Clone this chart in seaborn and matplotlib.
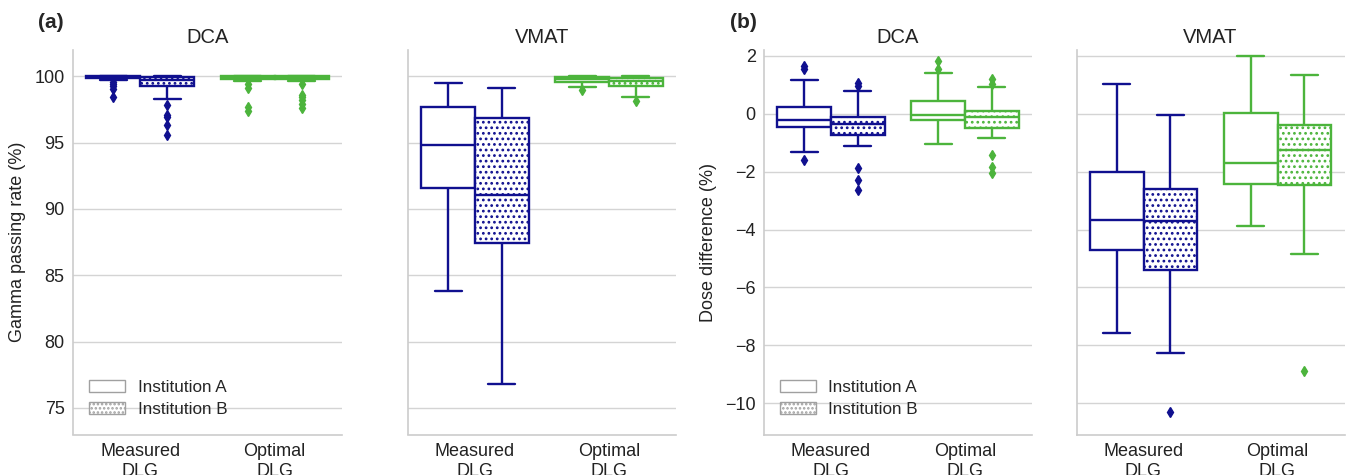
import numpy as np
import pandas as pd
import matplotlib
matplotlib.use("Agg")
import matplotlib.pyplot as plt
from matplotlib.patches import Patch
import seaborn as sns

sns.set_theme(style="whitegrid")
plt.rcParams['font.family'] = ['Liberation Sans', 'DejaVu Sans']
plt.rcParams['axes.edgecolor'] = '#cccccc'
plt.rcParams['grid.color'] = '#d4d4d4'
plt.rcParams['hatch.linewidth'] = 1.2

# ---------------- data ----------------
DLG_LABELS = ["Measured\nDLG", "Optimal\nDLG"]
INSTITUTIONS = ["Institution A", "Institution B"]
TECHNIQUES = ["DCA", "VMAT"]
# group order: Measured/A, Measured/B, Optimal/A, Optimal/B
# five-number summary: [lower whisker, Q1, median, Q3, upper whisker]
gpr_dca_box = [[99.72, 99.85, 99.95, 100.0, 100.0],
               [98.32, 99.30, 99.70, 99.97, 100.0],
               [99.65, 99.77, 99.92, 100.0, 100.0],
               [99.65, 99.77, 99.90, 100.0, 100.0]]
gpr_dca_fliers = [[99.55, 99.4, 99.25, 99.05, 98.4],
                  [97.85, 97.1, 96.9, 96.35, 95.55],
                  [99.38, 99.15, 97.7, 97.35],
                  [99.38, 98.6, 98.4, 98.2, 97.9, 97.6]]
gpr_vmat_box = [[83.8, 91.6, 94.85, 97.7, 99.5],
                [76.8, 87.45, 91.08, 96.84, 99.1],
                [99.17, 99.6, 99.77, 99.97, 100.0],
                [98.47, 99.3, 99.67, 99.9, 100.0]]
gpr_vmat_fliers = [[], [], [98.95], [98.1]]
dose_dca_box = [[-1.33, -0.46, -0.21, 0.23, 1.16],
                [-1.13, -0.74, -0.35, -0.12, 0.78],
                [-1.06, -0.23, -0.06, 0.45, 1.41],
                [-0.83, -0.48, -0.12, 0.08, 0.91]]
dose_dca_fliers = [[1.55, 1.65, -1.61],
                   [0.95, 1.07, -1.86, -2.30, -2.62],
                   [1.55, 1.83],
                   [1.04, 1.21, -1.44, -1.84, -2.05]]
dose_vmat_box = [[-7.56, -4.72, -3.66, -2.00, 1.04],
                 [-8.28, -5.41, -3.72, -2.61, -0.06],
                 [-3.89, -2.42, -1.69, 0.01, 1.99],
                 [-4.86, -2.46, -1.26, -0.39, 1.33]]
dose_vmat_fliers = [[], [-10.32], [], [-8.87]]

NAVY = "#10108f"
GREEN = "#4cb43c"
LINE_COLORS = [NAVY, GREEN]


def sample(stats, fliers):
    lo, q1, med, q3, hi = stats
    return list(fliers) + [lo] + [q1] * 20 + [med] * 21 + [q3] * 20 + [hi]


def frame(box, fliers):
    rows = []
    for i, (st, fl) in enumerate(zip(box, fliers)):
        dlg = DLG_LABELS[i // 2]
        inst = INSTITUTIONS[i % 2]
        for v in sample(st, fl):
            rows.append((dlg, inst, v))
    return pd.DataFrame(rows, columns=["DLG", "Institution", "value"])


W, H = 1349, 475
fig = plt.figure(figsize=(W / 100, H / 100), dpi=100)


def add_ax(left, width, top=50, bottom=434.5, sharey=None):
    return fig.add_axes([left / W, 1 - bottom / H, width / W, (bottom - top) / H],
                        sharey=sharey)


a1 = add_ax(73, 269)
a2 = add_ax(408, 268, sharey=a1)
b1 = add_ax(764, 268)
b2 = add_ax(1076.5, 268, sharey=b1)

panels = [(a1, gpr_dca_box, gpr_dca_fliers, "DCA"),
          (a2, gpr_vmat_box, gpr_vmat_fliers, "VMAT"),
          (b1, dose_dca_box, dose_dca_fliers, "DCA"),
          (b2, dose_vmat_box, dose_vmat_fliers, "VMAT")]

for ax, box, fl, title in panels:
    df = frame(box, fl)
    sns.boxplot(data=df, x="DLG", y="value", hue="Institution",
                order=DLG_LABELS, hue_order=INSTITUTIONS,
                palette={"Institution A": "white", "Institution B": "white"},
                width=0.8, gap=0, linewidth=1.7, legend=False, ax=ax,
                flierprops=dict(marker="d", markersize=5))
    for h, cont in enumerate(ax.containers):
        for j in range(len(cont.boxes)):
            c = LINE_COLORS[j]
            bx = cont.boxes[j]
            bx.set_facecolor("white")
            bx.set_edgecolor(c)
            if h == 1:
                bx.set_hatch("...")
            cont.medians[j].set_color(c)
            for k in (2 * j, 2 * j + 1):
                cont.whiskers[k].set_color(c)
                cont.caps[k].set_color(c)
            f = cont.fliers[j]
            f.set_markerfacecolor(c)
            f.set_markeredgecolor(c)
    ax.set_title(title, fontsize=14.5, pad=5, color="#222222")
    ax.set_xlabel("")
    ax.set_ylabel("")
    ax.grid(axis="x", visible=False)
    ax.grid(axis="y", visible=True, linewidth=1)
    for s in ("top", "right"):
        ax.spines[s].set_visible(False)
    for s in ("left", "bottom"):
        ax.spines[s].set_color("#cccccc")
        ax.spines[s].set_linewidth(1.2)
    ax.tick_params(axis="x", labelsize=13, pad=6, colors="#222222", length=0)
    ax.tick_params(axis="y", labelsize=13, pad=6, colors="#222222", length=0)
    for lab in ax.get_xticklabels():
        lab.set_linespacing(1.25)
    ax.set_xlim(-0.5, 1.5)

a1.set_ylim(73.0, 101.98)
a1.set_yticks([75, 80, 85, 90, 95, 100])
b1.set_ylim(-11.08, 2.2)
b1.set_yticks([-10, -8, -6, -4, -2, 0, 2])
a2.tick_params(labelleft=False)
b2.tick_params(labelleft=False)

a1.set_ylabel("Gamma passing rate (%)", fontsize=13, color="#222222", labelpad=6)
b1.set_ylabel("Dose difference (%)", fontsize=13, color="#222222", labelpad=6)

handles = [Patch(facecolor="white", edgecolor="#a0a0a0", linewidth=1.0),
           Patch(facecolor="white", edgecolor="#a0a0a0", linewidth=1.0, hatch="....")]
for ax in (a1, b1):
    ax.legend(handles, INSTITUTIONS, loc="lower left", bbox_to_anchor=(0.059, 0.045),
              frameon=False, fontsize=12.3, handlelength=2.1, handleheight=0.7,
              handletextpad=0.75, labelspacing=0.4, borderpad=0, borderaxespad=0)

fig.text(38 / W, 1 - 23 / H, "(a)", fontsize=15, fontweight="bold", va="center", ha="left")
fig.text(730 / W, 1 - 23 / H, "(b)", fontsize=15, fontweight="bold", va="center", ha="left")

fig.savefig("out.png", dpi=100)
